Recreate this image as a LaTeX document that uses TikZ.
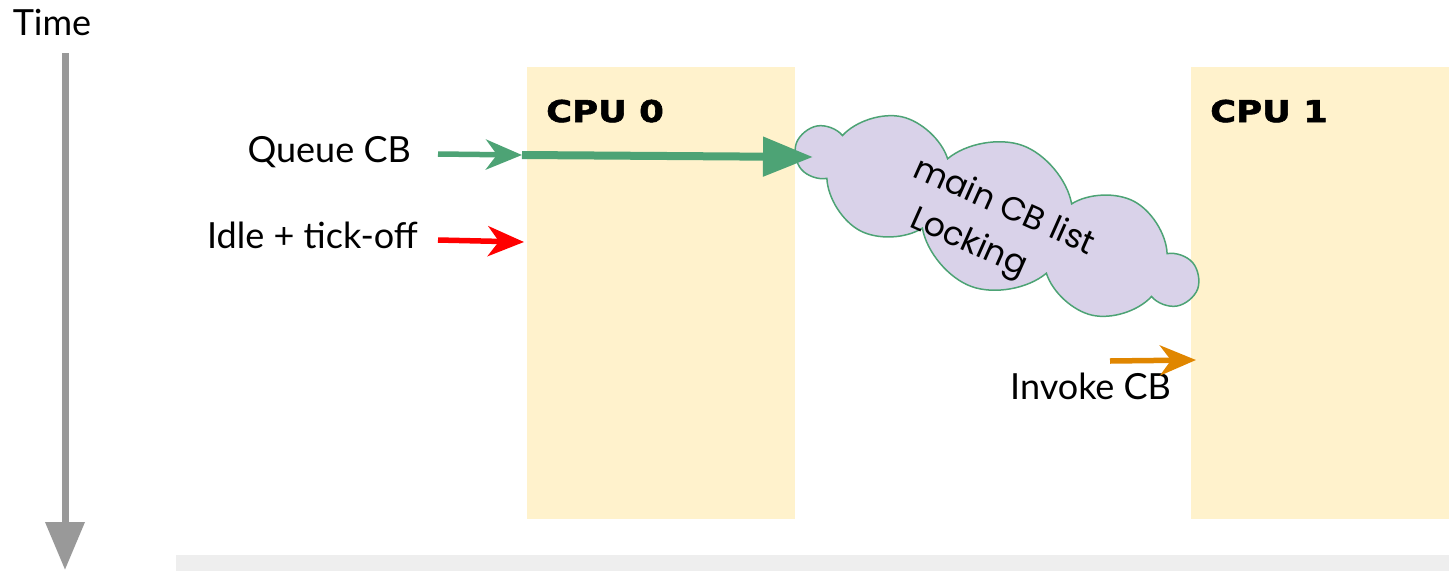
\documentclass[tikz,border=0pt]{standalone}
\usepackage{fontspec}
\setmainfont{Lato}
\newfontfamily\cloudfont{Poppins}
\newfontfamily\cpufont{DejaVu Sans}[UprightFont={* Bold}, FakeStretch=1.18, FakeBold=2]
\usetikzlibrary{arrows.meta,shapes.symbols}
\definecolor{cpufill}{RGB}{255,242,204}
\definecolor{lockfill}{RGB}{217,210,233}
\definecolor{lockgreen}{RGB}{77,163,117}
\definecolor{timegray}{RGB}{153,153,153}
\definecolor{bandgray}{RGB}{238,238,238}
\definecolor{invokeorange}{RGB}{224,134,0}
\tikzset{
  x=1pt, y=-1pt,
  label/.style={font=\fontsize{36}{40}\selectfont, inner sep=0pt},
  cpulabel/.style={font=\cpufont\fontsize{30}{36}\selectfont, inner sep=0pt, anchor=base west},
  locklabel/.style={font=\cloudfont\fontsize{33}{40}\selectfont, rotate=-24, anchor=base west, inner sep=0pt},
  thinarrow/.style={line width=5.5pt, -{Stealth[length=36pt,width=30pt,inset=11pt]}},
}
\begin{document}
\begin{tikzpicture}
  \useasboundingbox (0,0) rectangle (1449,571);
  % lanes and bottom band
  \fill[bandgray] (176,555) rectangle (1449,571);
  \fill[cpufill] (527,67) rectangle (795,519);
  \fill[cpufill] (1191,67) rectangle (1449,519);
  \node[cpulabel] (cpu0) at (546,122) {CPU 0};
  \node[cpulabel] (cpu1) at (1210,122) {CPU 1};

  % time axis
  \node[label, anchor=base] (time) at (52,35) {Time};
  \coordinate (tstart) at (65,53);
  \coordinate (tend) at (65,570);
  \draw[timegray, line width=7pt, -{Triangle[length=48pt,width=38pt]}] (tstart) -- (tend);

  % shared lock cloud
  \node[cloud, cloud puffs=10, cloud puff arc=120, cloud ignores aspect,
        fill=lockfill, draw=lockgreen, line width=1.5pt,
        minimum width=420pt, minimum height=150pt, rotate=-20,
        inner sep=0pt] (lock) at (997,216) {};
  \node[locklabel] (lockline1) at (911,176) {main CB list};
  \node[locklabel] (lockline2) at (908,226) {Locking};

  % event labels
  \node[label, anchor=base east] (queue) at (411,162) {Queue CB};
  \node[label, anchor=base east] (idle) at (418,248) {Idle + tick-off};
  \node[label, anchor=base west] (invoke) at (1010,399) {Invoke CB};

  % queue callback onto CPU 0, then into the lock
  \coordinate (qa) at (438,154);
  \coordinate (qb) at (522,155);
  \coordinate (qc) at (813,157);
  \draw[lockgreen, thinarrow] (qa) -- (qb);
  \draw[lockgreen, line width=8pt, -{Triangle[length=50pt,width=38pt]}] (qb) -- (qc);

  % idle arrow
  \coordinate (ia) at (438,240);
  \coordinate (ib) at (524,242);
  \draw[red, thinarrow] (ia) -- (ib);

  % invoke arrow
  \coordinate (va) at (1110,361);
  \coordinate (vb) at (1196,360);
  \draw[invokeorange, thinarrow] (va) -- (vb);
\end{tikzpicture}
\end{document}
